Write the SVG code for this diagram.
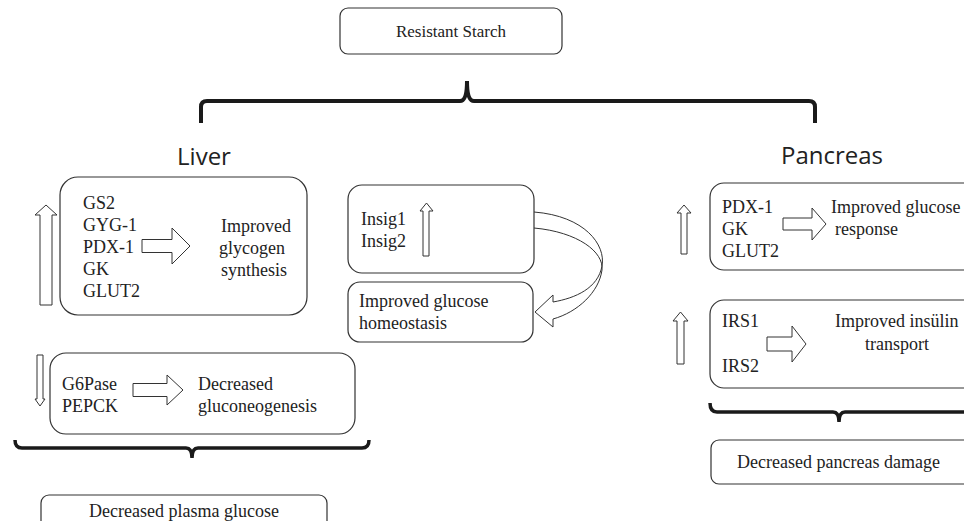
<svg xmlns="http://www.w3.org/2000/svg" width="964" height="521" viewBox="0 0 964 521">
<style>
.box{fill:#fff;stroke:#333;stroke-width:1.2}
.arr{fill:#fff;stroke:#333;stroke-width:1}
.brace{fill:none;stroke:#1a1a1a;stroke-width:4;stroke-linecap:butt}
.t{font-family:"Liberation Serif","Times New Roman",serif;font-size:18px;fill:#222}
.h{font-family:"Open Sans","Noto Sans",sans-serif;font-size:24px;fill:#222}
</style>
<rect width="964" height="521" fill="#fff"/>
<g id="connectors">
<path class="brace" d="M201,123 V107 Q201,101 207,101 H460 Q467,101 467,81 Q467,101 474,101 H809 Q815,101 815,107 V123"/>
<path class="brace" style="stroke-width:3.5" d="M15,440 Q15,448 22,448 H186 Q192,448 192,458 Q192,448 198,448 H362 Q369,448 369,440"/>
<path class="brace" style="stroke-width:3.5" d="M710,403 Q710,412 717,412 H833 Q839,412 839,422 Q839,412 845,412 H970"/>
<g id="curved-arrow" fill="none" stroke="#333" stroke-width="1">
<path d="M534,212 C585,216 606,245 602,266 C598,288 576,298 553,302"/>
<path d="M534,228 C578,232 604,252 602,270 C599,292 578,312 553,319"/>
<path fill="#fff" d="M553,302 L553,295 L535,312 L553,327 L553,319"/>
</g>
</g>
<g id="resistant-starch">
<rect class="box" x="340" y="8" width="222" height="46" rx="8"/>
<text class="t" x="451" y="37" text-anchor="middle" style="font-size:17px">Resistant Starch</text>
</g>
<g id="liver-title"><text class="h" x="204" y="165" text-anchor="middle">Liver</text></g>
<g id="pancreas-title"><text class="h" x="832" y="164" text-anchor="middle">Pancreas</text></g>
<g id="liver-glycogen">
<polygon class="arr" points="40,305 40,215 35,215 46,205 57,215 52,215 52,305"/>
<rect class="box" x="60" y="177" width="247" height="138" rx="18"/>
<text class="t" x="83" y="209">GS2</text>
<text class="t" x="83" y="231">GYG-1</text>
<text class="t" x="83" y="253">PDX-1</text>
<text class="t" x="83" y="275">GK</text>
<text class="t" x="83" y="297">GLUT2</text>
<polygon class="arr" points="142,239.5 172,239.5 172,228 190,246 172,264 172,252.5 142,252.5"/>
<text class="t" x="256" y="232" text-anchor="middle">Improved</text>
<text class="t" x="252" y="254" text-anchor="middle">glycogen</text>
<text class="t" x="254" y="276" text-anchor="middle">synthesis</text>
</g>
<g id="insig">
<rect class="box" x="348" y="185" width="186" height="88" rx="14"/>
<text class="t" x="361" y="225">Insig1</text>
<text class="t" x="361" y="247">Insig2</text>
<polygon class="arr" points="423,256 423,211 420,211 426.5,203 433,211 429,211 429,256"/>
</g>
<g id="glucose-homeostasis">
<rect class="box" x="348" y="282" width="185" height="60" rx="12"/>
<text class="t" x="359" y="307">Improved glucose</text>
<text class="t" x="359" y="329">homeostasis</text>
</g>
<g id="liver-gluconeogenesis">
<polygon class="arr" points="37,355 37,399 35,399 40,406 45,399 43,399 43,355"/>
<rect class="box" x="50" y="353" width="305" height="81" rx="16"/>
<text class="t" x="62" y="390">G6Pase</text>
<text class="t" x="62" y="412">PEPCK</text>
<polygon class="arr" points="133,383.5 167,383.5 167,375 183,390 167,405 167,396.5 133,396.5"/>
<text class="t" x="198" y="390">Decreased</text>
<text class="t" x="198" y="412">gluconeogenesis</text>
</g>
<g id="plasma-glucose">
<rect class="box" x="41" y="495" width="286" height="40" rx="8"/>
<text class="t" x="184" y="517" text-anchor="middle">Decreased plasma glucose</text>
</g>
<g id="pancreas-glucose">
<polygon class="arr" points="681,254 681,213 677,213 684,205 691,213 687,213 687,254"/>
<rect class="box" x="710" y="183" width="270" height="87" rx="14"/>
<text class="t" x="722" y="213">PDX-1</text>
<text class="t" x="722" y="235">GK</text>
<text class="t" x="722" y="257">GLUT2</text>
<polygon class="arr" points="783,218 812,218 812,208 826,224 812,240 812,230 783,230"/>
<text class="t" x="831" y="213">Improved glucose</text>
<text class="t" x="835" y="235">response</text>
</g>
<g id="pancreas-insulin">
<polygon class="arr" points="677,364 677,321 673,321 680.5,312 688,321 684,321 684,364"/>
<rect class="box" x="710" y="300" width="270" height="88" rx="14"/>
<text class="t" x="722" y="327">IRS1</text>
<text class="t" x="722" y="372">IRS2</text>
<polygon class="arr" points="767,337 792,337 792,326 806,344 792,362 792,351 767,351"/>
<text class="t" x="835" y="327">Improved insülin</text>
<text class="t" x="897" y="350" text-anchor="middle">transport</text>
</g>
<g id="pancreas-damage">
<rect class="box" x="711" y="440" width="270" height="44" rx="8"/>
<text class="t" x="737" y="468">Decreased pancreas damage</text>
</g>
</svg>
